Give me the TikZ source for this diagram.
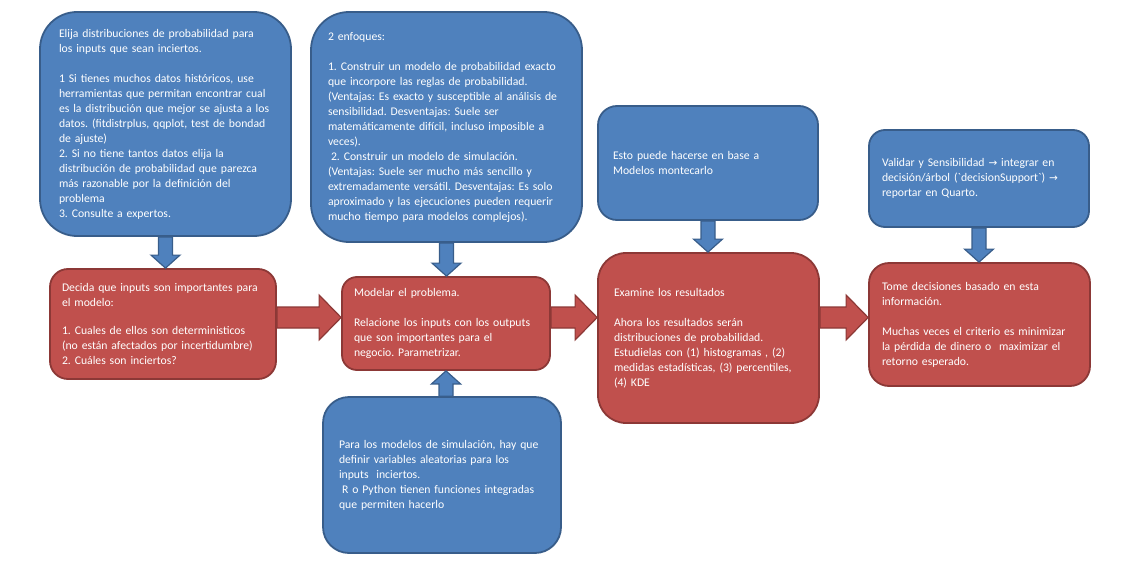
\documentclass[tikz,border=0pt]{standalone}
\usepackage{fontspec}
\newfontfamily\boxfont{Carlito}
\newfontfamily\symbfont{DejaVu Sans}
\usepackage{tikz}
\usetikzlibrary{calc, positioning}
\definecolor{colorBlueFill}{HTML}{4F81BD}
\definecolor{colorBlueLine}{HTML}{385D8A}
\definecolor{colorRedFill}{HTML}{C0504D}
\definecolor{colorRedLine}{HTML}{8C3836}
\newcommand{\flecha}{{\symbfont\fontsize{10.5}{15}\selectfont →}}
\frenchspacing
\tikzset{
  box/.style={rounded corners=#1, line width=1.8pt, text=white, align=left,
    font=\boxfont\fontsize{11.7}{15}\selectfont, inner ysep=0pt},
  bluebox/.style={box=#1, draw=colorBlueLine, fill=colorBlueFill},
  redbox/.style={box=#1, draw=colorRedLine, fill=colorRedFill},
  blockarrow/.style n args={3}{line width=1.2pt, line join=miter, to path={
    ($(\tikztostart)!#1!90:(\tikztotarget)$)
    -- ($(\tikztotarget)!#3!(\tikztostart)!#1!90:(\tikztotarget)$)
    -- ($(\tikztotarget)!#3!(\tikztostart)!#2!90:(\tikztotarget)$)
    -- (\tikztotarget)
    -- ($(\tikztotarget)!#3!(\tikztostart)!#2!-90:(\tikztotarget)$)
    -- ($(\tikztotarget)!#3!(\tikztostart)!#1!-90:(\tikztotarget)$)
    -- ($(\tikztostart)!#1!-90:(\tikztotarget)$) -- cycle}},
  vblue/.style={blockarrow={7pt}{14.5pt}{13pt}, draw=colorBlueLine, fill=colorBlueFill},
  hred/.style={blockarrow={10.5pt}{22.5pt}{22pt}, draw=colorRedLine, fill=colorRedFill}
}

\begin{document}
\begin{tikzpicture}[x=1pt, y=-1pt]
\useasboundingbox (0,0) rectangle (1134,567);
% top row, blue notes
\node[bluebox=37pt, minimum width=251pt, minimum height=224pt, text width=213pt, inner xsep=19pt] (elija) at (165.5,124) {Elija distribuciones de probabilidad para\\ los inputs que sean inciertos.\\[15pt] 1 Si tienes muchos datos históricos, use\\ herramientas que permitan encontrar cual\\ es la distribución que mejor se ajusta a los\\ datos. (fitdistrplus, qqplot, test de bondad\\ de ajuste)\\ 2. Si no tiene tantos datos elija la\\ distribución de probabilidad que parezca\\ más razonable por la definición del\\ problema\\ 3. Consulte a expertos.};
\node[bluebox=38pt, minimum width=271pt, minimum height=230pt, text width=237pt, inner xsep=17pt] (enfoques) at (446.5,127) {2 enfoques:\\[15pt] 1. Construir un modelo de probabilidad exacto\\ que incorpore las reglas de probabilidad.\\ (Ventajas: Es exacto y susceptible al análisis de\\ sensibilidad. Desventajas: Suele ser\\ matemáticamente difícil, incluso imposible a\\ veces).\\ \hspace*{3pt}2. Construir un modelo de simulación.\\ (Ventajas: Suele ser mucho más sencillo y\\ extremadamente versátil. Desventajas: Es solo\\ aproximado y las ejecuciones pueden requerir\\ mucho tiempo para modelos complejos).};
\node[bluebox=19pt, minimum width=220pt, minimum height=114pt, text width=190pt, inner xsep=15pt] (montecarlo) at (708,163) {Esto puede hacerse en base a\\ Modelos montecarlo};
\node[bluebox=16pt, minimum width=220pt, minimum height=97pt, text width=194pt, inner xsep=13pt] (validar) at (979,178.5) {Validar y Sensibilidad \flecha{} integrar en\\ decisión/árbol (`decisionSupport`) \flecha\\ reportar en Quarto.};
% middle row, red steps
\node[redbox=18pt, minimum width=226pt, minimum height=110pt, text width=202pt, inner xsep=12pt] (decida) at (163,324) {Decida que inputs son importantes para\\ el modelo:\\[13pt] 1. Cuales de ellos son deterministicos\\ (no están afectados por incertidumbre)\\ 2. Cuáles son inciertos?};
\node[redbox=15pt, minimum width=208pt, minimum height=93pt, text width=184pt, inner xsep=12pt] (modelar) at (446,323.5) {Modelar el problema.\\[15pt] Relacione los inputs con los outputs\\ que son importantes para el\\ negocio. Parametrizar.};
\node[redbox=28pt, minimum width=221pt, minimum height=170pt, text width=189pt, inner xsep=16pt] (examine) at (708.5,338) {Examine los resultados\\[15pt] Ahora los resultados serán\\ distribuciones de probabilidad.\\ Estudielas con (1) histogramas , (2)\\ medidas estadísticas, (3) percentiles,\\ (4) KDE};
\node[redbox=20pt, minimum width=221pt, minimum height=123pt, text width=195pt, inner xsep=13pt] (tome) at (979.5,324.5) {Tome decisiones basado en esta\\ información.\\[15pt] Muchas veces el criterio es minimizar\\ la pérdida de dinero o\ \ maximizar el\\ retorno esperado.};
% bottom note
\node[bluebox=26pt, minimum width=238pt, minimum height=156pt, text width=206pt, inner xsep=16pt] (simular) at (442,475) {Para los modelos de simulación, hay que\\ definir variables aleatorias para los\\ inputs\ \ inciertos.\\ \hspace*{3pt}R o Python tienen funciones integradas\\ que permiten hacerlo};
% block arrows
\coordinate (row) at (0,317.5);
\draw[vblue] (elija.south) to (elija.south |- decida.north);
\draw[vblue] (enfoques.south) to (enfoques.south |- modelar.north);
\draw[vblue] (modelar.south |- simular.north) to (modelar.south);
\draw[vblue] (montecarlo.south) to (montecarlo.south |- examine.north);
\draw[vblue] (validar.south) to (validar.south |- tome.north);
\draw[hred] (decida.east |- row) to (modelar.west |- row);
\draw[hred] (modelar.east |- row) to (examine.west |- row);
\draw[hred] (examine.east |- row) to (tome.west |- row);
\end{tikzpicture}
\end{document}
